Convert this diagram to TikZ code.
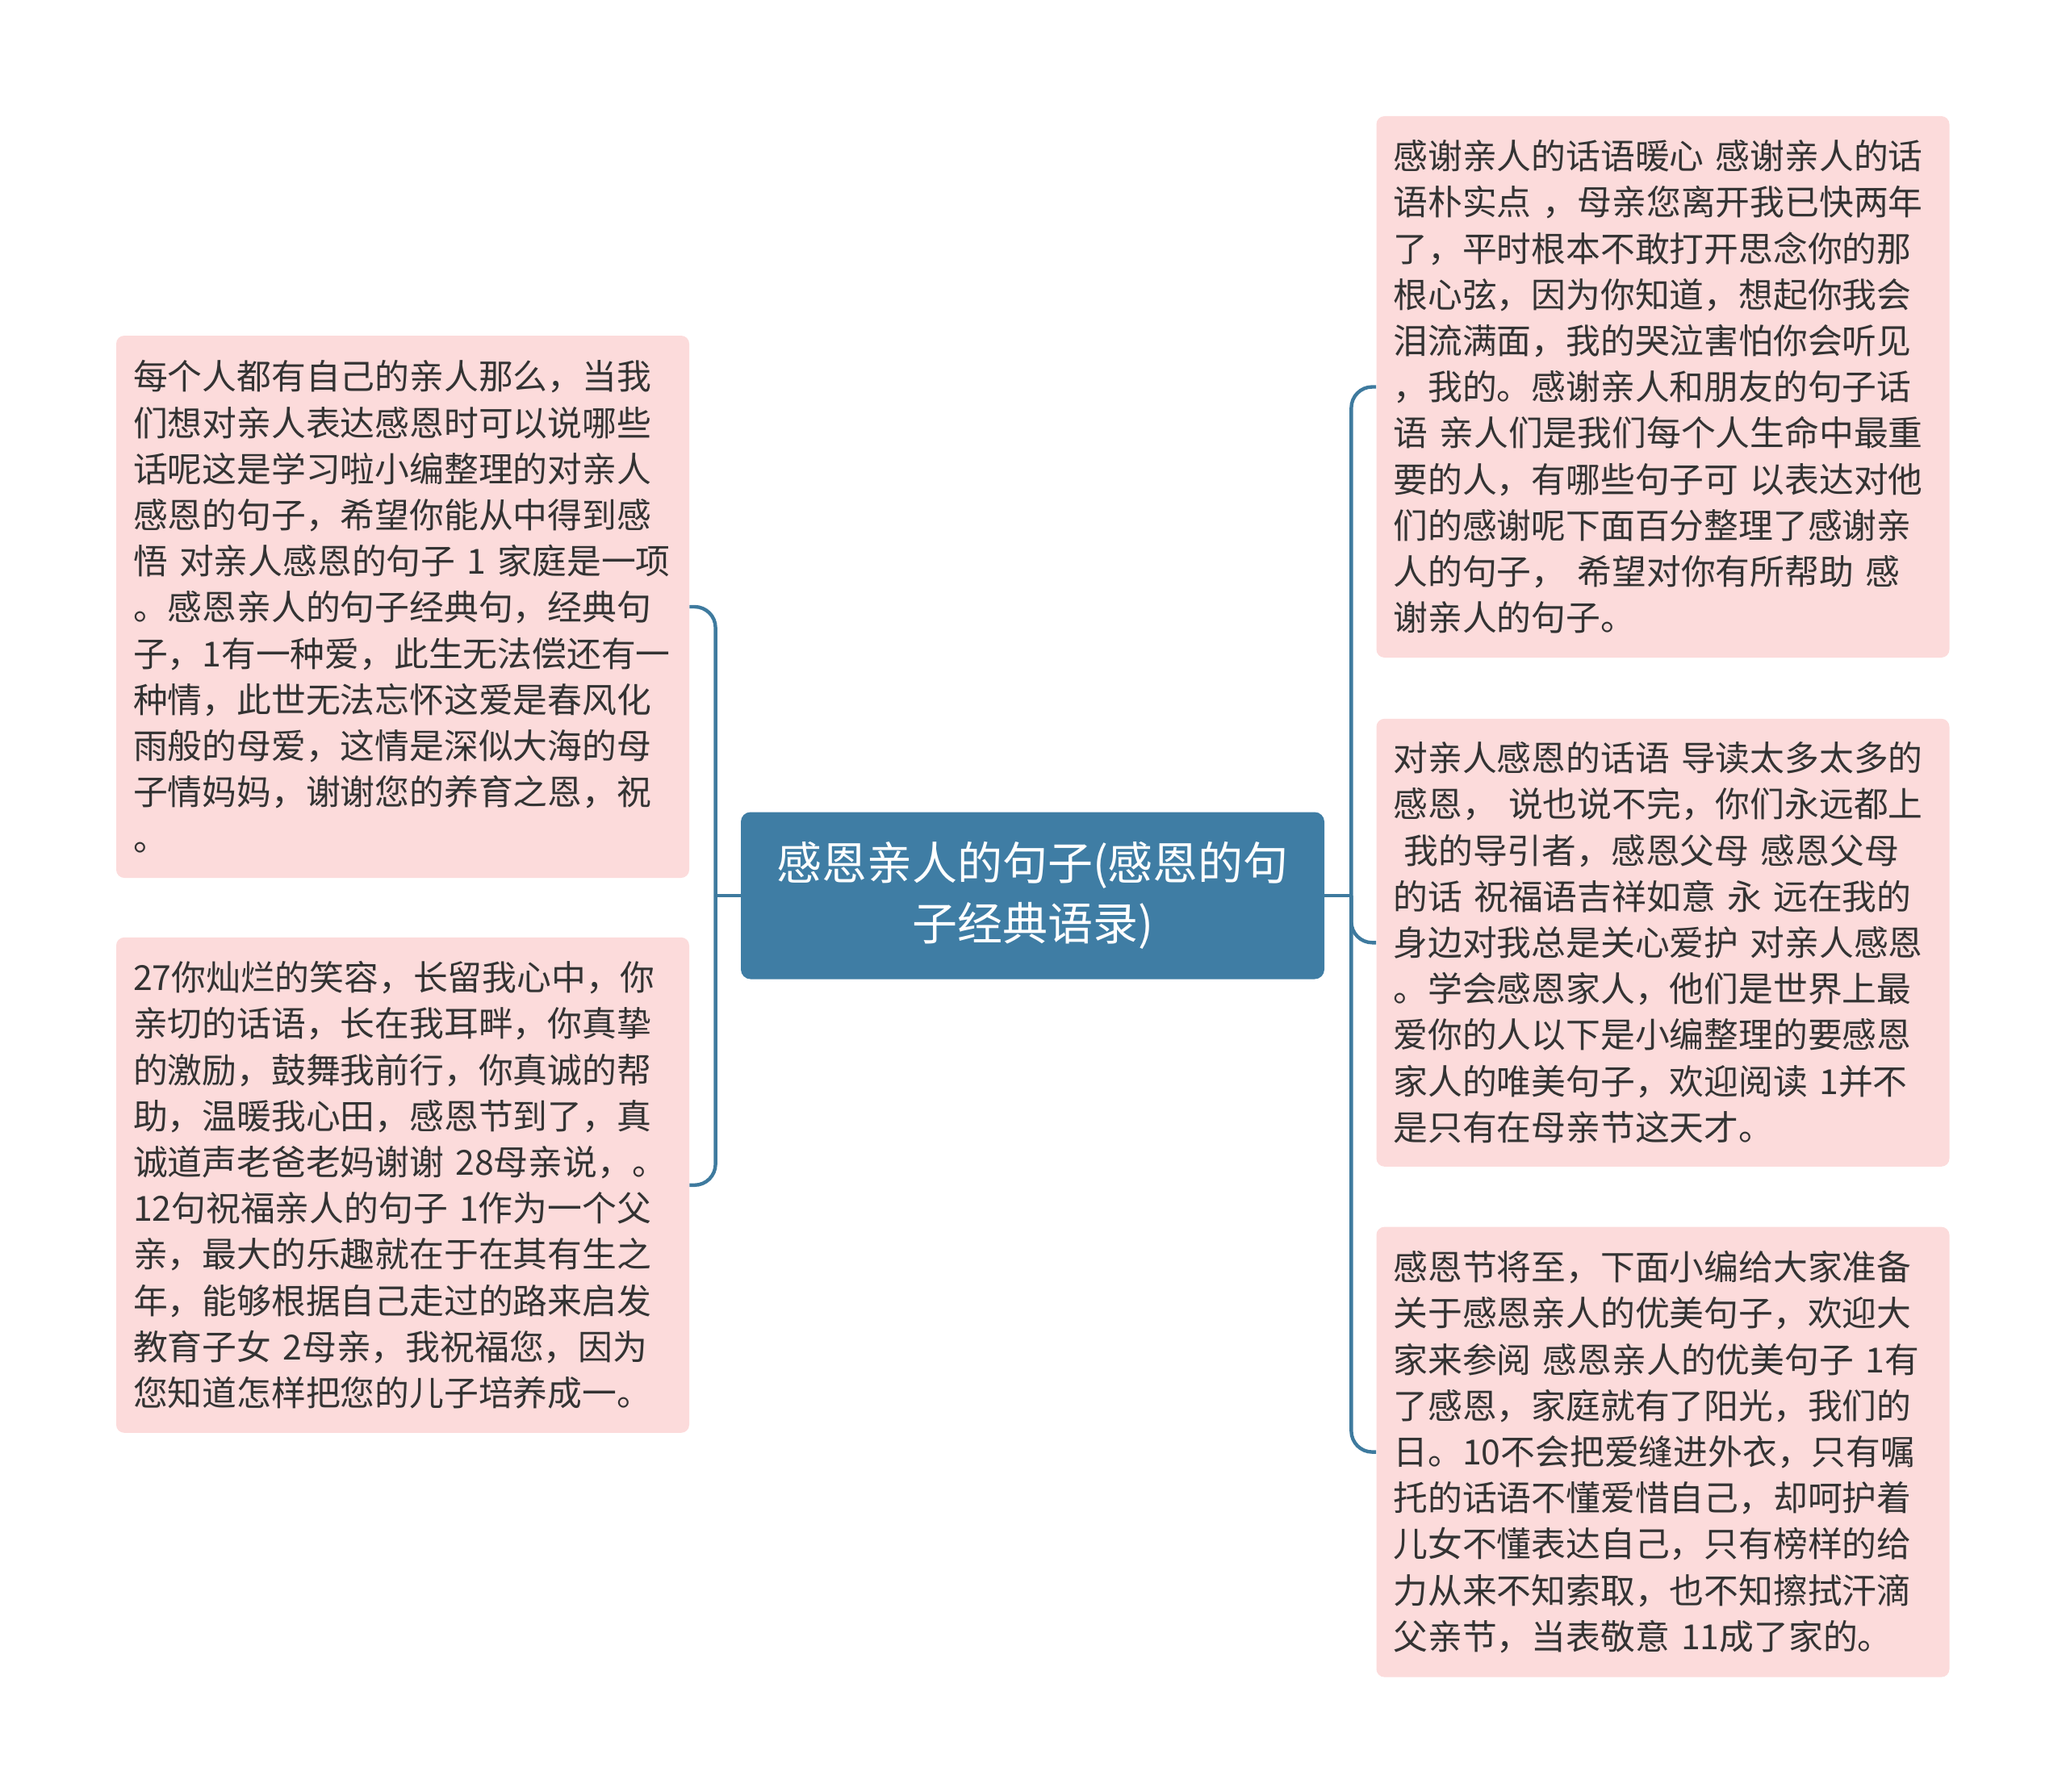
\documentclass[tikz,border=0pt]{standalone}
\usepackage{fontspec}
\setmainfont{Noto Sans CJK SC}
\usetikzlibrary{positioning,calc}
\definecolor{RootBlue}{RGB}{63,125,164}
\definecolor{LinkBlue}{RGB}{62,122,158}
\definecolor{LeafPink}{RGB}{252,219,219}
\definecolor{LeafText}{RGB}{51,51,51}

\begin{document}
\begin{tikzpicture}[
  root/.style={fill=RootBlue, rounded corners=6pt, text=white, align=center,
               minimum width=361.5pt, minimum height=103.5pt, inner sep=0pt,
               font=\fontsize{28pt}{37.5pt}\selectfont},
  leaf/.style={fill=LeafPink, rounded corners=5pt, text=LeafText, align=left,
               text width=334pt, inner xsep=10.5pt, inner ysep=4pt,
               font=\fontsize{21.4pt}{28.6pt}\selectfont},
  link/.style={draw=LinkBlue, line width=2.2pt, rounded corners=13pt},
]
\useasboundingbox (0,0) rectangle (1280pt,-1110.5pt);

% ============ ROOT ============
\node[root] (root) at (639.75pt,-555pt) {感恩亲人的句子(感恩的句\\子经典语录)};

% ============ LEFT BRANCH ============
\node[leaf, minimum height=336pt] (left1) at (249.5pt,-376pt)
  {每个人都有自己的亲人那么，当我\\
   们想对亲人表达感恩时可以说哪些\\
   话呢这是学习啦小编整理的对亲人\\
   感恩的句子，希望你能从中得到感\\
   悟~对亲人感恩的句子~1~家庭是一项\\
   。感恩亲人的句子经典句，经典句\\
   子，1有一种爱，此生无法偿还有一\\
   种情，此世无法忘怀这爱是春风化\\
   雨般的母爱，这情是深似大海的母\\
   子情妈妈，谢谢您的养育之恩，祝\\
   。};
\node[leaf, minimum height=307pt, below=36.5pt of left1] (left2)
  {27你灿烂的笑容，长留我心中，你\\
   亲切的话语，长在我耳畔，你真挚\\
   的激励，鼓舞我前行，你真诚的帮\\
   助，温暖我心田，感恩节到了，真\\
   诚道声老爸老妈谢谢~28母亲说，。\\
   12句祝福亲人的句子~1作为一个父\\
   亲，最大的乐趣就在于在其有生之\\
   年，能够根据自己走过的路来启发\\
   教育子女~2母亲，我祝福您，因为\\
   您知道怎样把您的儿子培养成一。};

% ============ RIGHT BRANCH ============
\node[leaf, minimum height=335.5pt] (right1) at (1030.25pt,-239.75pt)
  {感谢亲人的话语暖心~感谢亲人的话\\
   语朴实点~，母亲您离开我已快两年\\
   了，平时根本不敢打开思念你的那\\
   根心弦，因为你知道，想起你我会\\
   泪流满面，我的哭泣害怕你会听见\\
   ，我的。感谢亲人和朋友的句子话\\
   语~亲人们是我们每个人生命中最重\\
   要的人，有哪些句子可~以表达对他\\
   们的感谢呢下面百分整理了感谢亲\\
   人的句子，~希望对你有所帮助~感\\
   谢亲人的句子。};
\node[leaf, minimum height=277.5pt, below=37.5pt of right1] (right2)
  {对亲人感恩的话语~导读太多太多的\\
   感恩，~说也说不完，你们永远都上\\
   \hspace*{6.5pt}我的导引者，感恩父母~感恩父母\\
   的话~祝福语吉祥如意~永~远在我的\\
   身边对我总是关心爱护~对亲人感恩\\
   。学会感恩家人，他们是世界上最\\
   爱你的人以下是小编整理的要感恩\\
   家人的唯美句子，欢迎阅读~1并不\\
   是只有在母亲节这天才。};
\node[leaf, minimum height=279pt, below=37pt of right2] (right3)
  {感恩节将至，下面小编给大家准备\\
   关于感恩亲人的优美句子，欢迎大\\
   家来参阅~感恩亲人的优美句子~1有\\
   了感恩，家庭就有了阳光，我们的\\
   日。10不会把爱缝进外衣，只有嘱\\
   托的话语不懂爱惜自己，却呵护着\\
   儿女不懂表达自己，只有榜样的给\\
   力从来不知索取，也不知擦拭汗滴\\
   父亲节，当表敬意~11成了家的。};

% ============ CONNECTORS ============
\coordinate (lj) at ($(root.west)+(-15.5pt,0)$);
\coordinate (rj) at ($(root.east)+(16.5pt,0)$);
\draw[link] (root.west) -- (lj);
\draw[link] (lj) |- (left1.east);
\draw[link] (lj) |- (left2.east);
\draw[link] (root.east) -- (rj);
\draw[link] (rj) |- (right1.west);
\draw[link] (rj) |- (right2.west);
\draw[link] (rj) |- (right3.west);

\end{tikzpicture}
\end{document}
